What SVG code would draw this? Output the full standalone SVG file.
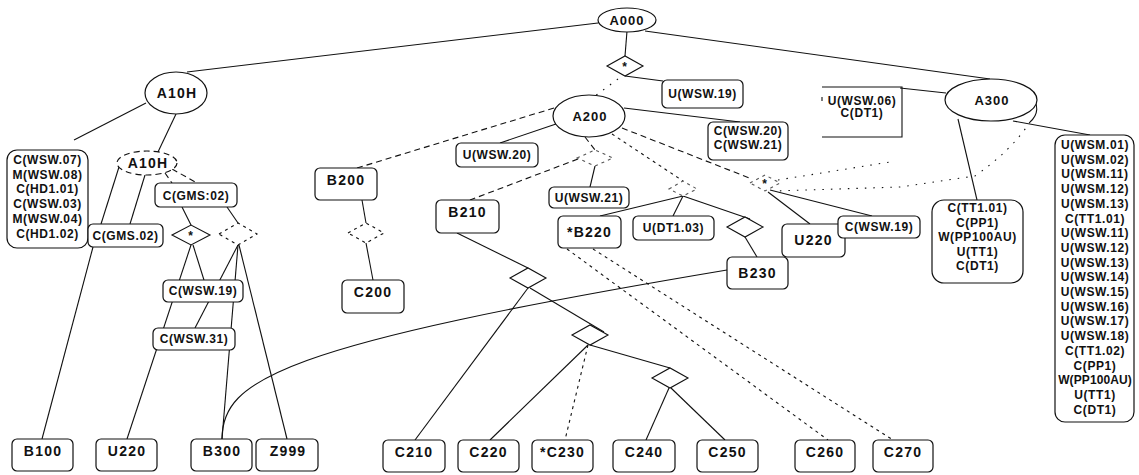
<svg xmlns="http://www.w3.org/2000/svg" width="1139" height="475" viewBox="0 0 1139 475">
<style>
text{font-family:"Liberation Sans",Arial,sans-serif;font-weight:bold;fill:#111;text-anchor:middle}
.s{font-size:12px;letter-spacing:0.6px}
.n{letter-spacing:0.1px}
.m{font-size:13px;letter-spacing:1px}
.l{font-size:14px;letter-spacing:1.2px}
.box{fill:#fff;stroke:#111;stroke-width:1.2}
.ell{fill:#fff;stroke:#111;stroke-width:1.2}
.dia{fill:#fff;stroke:#111;stroke-width:1.1}
.ln{fill:none;stroke:#111;stroke-width:1.1}
.da{stroke-dasharray:6 4}
.do{stroke-dasharray:1.5 7}
.dd{stroke-dasharray:3 4}
.faint{stroke:#555}
</style>
<rect width="1139" height="475" fill="#fff"/>
<g id="connectors">
<path class="ln" d="M598,23 L187,72"/>
<path class="ln" d="M645,31 L990,79"/>
<path class="ln" d="M627,31 L625,56"/>
<path class="ln" d="M625,76 L663,81"/>
<path class="ln do" d="M618,79 L595,96"/>
<path class="ln" d="M146,103 L74,140"/>
<path class="ln" d="M176,114 L158,152"/>
<path class="ln" d="M119,167 L101,224"/>
<path class="ln" d="M145,175 L130,224"/>
<path class="ln da" d="M165,173 L172,183"/>
<path class="ln da" d="M172,169 L197,183"/>
<path class="ln" d="M93,247 L42,439"/>
<path class="ln" d="M182,207 L191,225"/>
<path class="ln" d="M227,207 L238,223"/>
<path class="ln" d="M191,245 L127,439"/>
<path class="ln" d="M193,245 L204,280"/>
<path class="ln" d="M238,245 L195,328"/>
<path class="ln" d="M238,245 L222,439"/>
<path class="ln" d="M239,245 L287,439"/>
<path class="ln" d="M222,439 C222,380 280,345 727,270"/>
<path class="ln da" d="M554,108 L357,168"/>
<path class="ln" d="M556,124 L500,143"/>
<path class="ln" d="M362,200 L366,223"/>
<path class="ln" d="M366,243 L373,280"/>
<path class="ln da" d="M585,137 L595,150"/>
<path class="ln da" d="M578,159 L470,200"/>
<path class="ln" d="M595,166 L590,187"/>
<path class="ln dd" d="M612,134 L683,181"/>
<path class="ln" d="M683,196 L600,216"/>
<path class="ln" d="M683,196 L673,216"/>
<path class="ln" d="M683,196 L750,219"/>
<path class="ln" d="M745,237 L757,257"/>
<path class="ln" d="M624,108 L740,122"/>
<path class="ln da" d="M622,128 L752,179"/>
<path class="ln" d="M770,190 L872,216"/>
<path class="ln" d="M768,192 L810,224"/>
<path class="ln" d="M457,233 L528,268"/>
<path class="ln" d="M528,288 L415,440"/>
<path class="ln" d="M530,288 L604,332"/>
<path class="ln" d="M588,345 L490,440"/>
<path class="ln dd" d="M588,345 L565,440"/>
<path class="ln" d="M590,345 L670,368"/>
<path class="ln" d="M669,388 L646,440"/>
<path class="ln" d="M671,388 L725,440"/>
<path class="ln dd" d="M593,249 L893,440"/>
<path class="ln dd" d="M567,249 L828,440"/>
<path class="ln" d="M946,93 L900,88"/>
<path class="ln" d="M958,119 L977,200"/>
<path class="ln" d="M1013,121 L1090,135"/>
<path class="ln" d="M1030,96 C1040,104 1038,115 1030,122"/>
<path class="ln do" d="M1030,122 Q1012,150 975,176 L900,187 L775,191"/>
<path class="ln do" d="M778,180 L890,162"/>
</g>
<g id="A000"><ellipse class="ell" cx="627" cy="20" rx="29" ry="12"/><text class="m" x="627" y="25">A000</text></g>
<g id="D0"><path class="dia" d="M607,66 L625,56 L643,66 L625,76 Z"/><text class="s" x="625" y="71">*</text></g>
<g id="U-WSW19"><rect class="box" x="662" y="80" width="81" height="28" rx="5"/><text class="s" x="702.5" y="98">U(WSW.19)</text></g>
<g id="A10H"><ellipse class="ell" cx="176" cy="93" rx="31" ry="21"/><text class="l" x="177" y="98">A10H</text></g>
<g id="box-left"><rect class="box" x="7" y="150" width="81" height="98" rx="10"/>
<text class="s" x="47.5" y="164">C(WSW.07)</text><text class="s" x="47.5" y="178.5">M(WSW.08)</text><text class="s" x="47.5" y="193">C(HD1.01)</text><text class="s" x="47.5" y="208">C(WSW.03)</text><text class="s" x="47.5" y="223">M(WSW.04)</text><text class="s" x="47.5" y="238">C(HD1.02)</text></g>
<g id="A10H-2"><ellipse class="ell da" cx="147" cy="163" rx="30" ry="12"/><text class="l" x="148" y="168">A10H</text></g>
<g id="C-GMS02-L"><rect class="box" x="88" y="224" width="75" height="23" rx="5"/><text class="s" x="125.5" y="240">C(GMS.02)</text></g>
<g id="C-GMS02-R"><rect class="box" x="155" y="183" width="82" height="24" rx="5"/><text class="s" x="196" y="200">C(GMS:02)</text></g>
<g id="D1"><path class="dia" d="M172,235 L191,225 L210,235 L191,245 Z"/><text class="s" x="191" y="240">*</text></g>
<g id="D2"><path class="dia dd" d="M219,234 L238,223 L257,234 L238,245 Z"/></g>
<g id="C-WSW19-L"><rect class="box" x="163" y="280" width="80" height="22" rx="5"/><text class="s" x="203" y="295">C(WSW.19)</text></g>
<g id="C-WSW31"><rect class="box" x="153" y="328" width="82" height="22" rx="5"/><text class="s" x="194" y="343">C(WSW.31)</text></g>
<g id="B100"><rect class="box" x="12" y="439" width="61" height="32" rx="5"/><text class="l" x="43" y="456">B100</text></g>
<g id="U220-L"><rect class="box" x="96" y="439" width="61" height="32" rx="5"/><text class="l" x="127" y="456">U220</text></g>
<g id="B300"><rect class="box" x="191" y="439" width="61" height="32" rx="5"/><text class="l" x="222" y="456">B300</text></g>
<g id="Z999"><rect class="box" x="256" y="439" width="62" height="32" rx="5"/><text class="l" x="288" y="456">Z999</text></g>
<g id="A200"><ellipse class="ell" cx="589" cy="116" rx="36" ry="21"/><text class="m" x="590" y="121">A200</text></g>
<g id="U-WSW20"><rect class="box" x="456" y="143" width="82" height="24" rx="5"/><text class="s" x="497" y="159">U(WSW.20)</text></g>
<g id="C-WSW20-21"><rect class="box" x="708" y="122" width="80" height="38" rx="5"/><text class="s" x="748" y="135">C(WSW.20)</text><text class="s" x="748" y="149">C(WSW.21)</text></g>
<g id="B200"><rect class="box" x="315" y="168" width="62" height="32" rx="5"/><text class="l" x="346" y="185">B200</text></g>
<g id="D3"><path class="dia dd" d="M348,233 L366,223 L384,233 L366,243 Z"/></g>
<g id="C200"><rect class="box" x="342" y="280" width="62" height="33" rx="5"/><text class="l" x="373" y="297">C200</text></g>
<g id="D4"><path class="dia dd faint" d="M577,158 L595,150 L613,158 L595,166 Z"/></g>
<g id="U-WSW21"><rect class="box" x="549" y="187" width="80" height="21" rx="5"/><text class="s" x="589" y="202">U(WSW.21)</text></g>
<g id="B210"><rect class="box" x="436" y="200" width="63" height="33" rx="5"/><text class="l" x="467.5" y="217">B210</text></g>
<g id="D5"><path class="dia dd faint" d="M669,189 L683,181 L697,189 L683,196 Z" fill="none"/></g>
<g id="B220"><rect class="box" x="558" y="216" width="63" height="32" rx="5"/><text class="l" x="589.5" y="237">*B220</text></g>
<g id="U-DT103"><rect class="box" x="633" y="216" width="81" height="24" rx="5"/><text class="s" x="673.5" y="232">U(DT1.03)</text></g>
<g id="D6"><path class="dia" d="M727,227 L745,217 L763,227 L745,237 Z"/></g>
<g id="B230"><rect class="box" x="727" y="257" width="61" height="32" rx="5"/><text class="l" x="757.5" y="278">B230</text></g>
<g id="D7"><path class="dia dd faint" d="M750,183 L765,175 L780,183 L765,191 Z"/><text class="s" x="765" y="188">*</text></g>
<g id="U220-R"><rect class="box" x="782" y="224" width="63" height="33" rx="5"/><text class="l" x="813.5" y="245">U220</text></g>
<g id="C-WSW19-R"><rect class="box" x="838" y="216" width="82" height="22" rx="5"/><text class="s" x="879" y="231">C(WSW.19)</text></g>
<g id="D8"><path class="dia" d="M510,278 L528,268 L546,278 L528,288 Z"/></g>
<g id="D9"><path class="dia" d="M572,335 L590,325 L608,335 L590,345 Z"/></g>
<g id="D10"><path class="dia" d="M652,378 L670,368 L688,378 L670,388 Z"/></g>
<g id="C210"><rect class="box" x="383" y="440" width="62" height="32" rx="5"/><text class="l" x="414" y="457">C210</text></g>
<g id="C220"><rect class="box" x="458" y="440" width="61" height="32" rx="5"/><text class="l" x="488.5" y="457">C220</text></g>
<g id="C230"><rect class="box" x="532" y="440" width="61" height="32" rx="5"/><text class="l" x="562.5" y="457">*C230</text></g>
<g id="C240"><rect class="box" x="613" y="440" width="62" height="32" rx="5"/><text class="l" x="644" y="457">C240</text></g>
<g id="C250"><rect class="box" x="697" y="440" width="61" height="32" rx="5"/><text class="l" x="727.5" y="457">C250</text></g>
<g id="C260"><rect class="box" x="795" y="440" width="60" height="32" rx="5"/><text class="l" x="825" y="457">C260</text></g>
<g id="C270"><rect class="box" x="873" y="440" width="60" height="32" rx="5"/><text class="l" x="903" y="457">C270</text></g>
<g id="A300"><ellipse class="ell" cx="991" cy="100" rx="46" ry="21"/><text class="m" x="992" y="105">A300</text></g>
<g id="U-WSW06"><path class="ln" d="M822,87 H902 V137 H822"/><path class="ln" d="M822,97 V101"/><text class="s" x="862" y="105">U(WSW.06)</text><text class="s" x="862" y="117">C(DT1)</text></g>
<g id="C-TT101"><rect class="box" x="932" y="200" width="91" height="83" rx="12"/>
<text class="s" x="977.5" y="212">C(TT1.01)</text><text class="s" x="977.5" y="226.5">C(PP1)</text><text class="s" x="977.5" y="241">W(PP100AU)</text><text class="s" x="977.5" y="255.5">U(TT1)</text><text class="s" x="977.5" y="270">C(DT1)</text></g>
<g id="box-right"><rect class="box" x="1055" y="135" width="79" height="287" rx="10"/>
<text class="s" x="1095" y="149">U(WSM.01)</text>
<text class="s" x="1095" y="163.7">U(WSM.02)</text>
<text class="s" x="1095" y="178.4">U(WSM.11)</text>
<text class="s" x="1095" y="193.1">U(WSM.12)</text>
<text class="s" x="1095" y="207.8">U(WSM.13)</text>
<text class="s" x="1095" y="222.5">C(TT1.01)</text>
<text class="s" x="1095" y="237.2">U(WSW.11)</text>
<text class="s" x="1095" y="251.9">U(WSW.12)</text>
<text class="s" x="1095" y="266.6">U(WSW.13)</text>
<text class="s" x="1095" y="281.3">U(WSW.14)</text>
<text class="s" x="1095" y="296">U(WSW.15)</text>
<text class="s" x="1095" y="310.7">U(WSW.16)</text>
<text class="s" x="1095" y="325.4">U(WSW.17)</text>
<text class="s" x="1095" y="340.1">U(WSW.18)</text>
<text class="s" x="1095" y="354.8">C(TT1.02)</text>
<text class="s" x="1095" y="369.5">C(PP1)</text>
<text class="s n" x="1095" y="384.2">W(PP100AU)</text>
<text class="s" x="1095" y="398.9">U(TT1)</text>
<text class="s" x="1095" y="413.6">C(DT1)</text></g>
</svg>
